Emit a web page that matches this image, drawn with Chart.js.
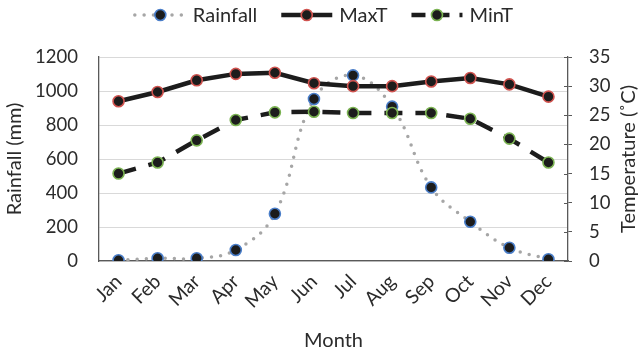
<!DOCTYPE html>
<html>
<head>
<meta charset="utf-8">
<script src="https://cdn.jsdelivr.net/npm/chart.js@4/dist/chart.umd.min.js"></script>
<style>
  html, body { margin: 0; padding: 0; background: #fff; }
  #wrap { width: 640px; height: 356px; }
</style>
</head>
<body>
<div id="wrap"><canvas id="c" width="640" height="356"></canvas></div>
<script>
// Monthly climate: rainfall (left axis) and temperatures (right axis)
const months = ['Jan', 'Feb', 'Mar', 'Apr', 'May', 'Jun', 'Jul', 'Aug', 'Sep', 'Oct', 'Nov', 'Dec'];
const rainfall = [4, 16, 16, 65, 278, 953, 1092, 908, 433, 231, 78, 10];
const maxT = [27.4, 29.0, 31.0, 32.1, 32.3, 30.5, 30.0, 30.0, 30.8, 31.4, 30.3, 28.2];
const minT = [15.0, 16.9, 20.7, 24.2, 25.5, 25.6, 25.4, 25.4, 25.4, 24.4, 21.0, 16.9];
const rainTicks = [0, 200, 400, 600, 800, 1000, 1200];
const tempTicks = [0, 5, 10, 15, 20, 25, 30, 35];

const FONT = 'Lato, "Noto Sans", sans-serif';
const TEXT = '#2b2b2b';
const AXIS = '#595959';
const GRID = '#d9d9d9';
const TITLE_SIZE = 20;
const NUM_SIZE = 18.5;

// Legend: line sample with a centred marker, followed by the label
const comboLegend = {
  id: 'comboLegend',
  afterDraw(chart) {
    const ctx = chart.ctx;
    const sets = chart.data.datasets;
    const sampleW = 51, gapText = 7, gapItem = 24, cy = 15;
    ctx.save();
    ctx.font = TITLE_SIZE + 'px ' + FONT;
    const widths = sets.map(d => ctx.measureText(d.label).width);
    let total = 0;
    widths.forEach((w, i) => { total += sampleW + gapText + w + (i < sets.length - 1 ? gapItem : 0); });
    let x = 324 - total / 2;
    sets.forEach((d, i) => {
      ctx.save();
      ctx.strokeStyle = d.borderColor;
      ctx.lineWidth = d.borderWidth;
      ctx.lineCap = d.borderCapStyle || 'butt';
      ctx.setLineDash(d.legendDash || d.borderDash || []);
      ctx.beginPath();
      ctx.moveTo(x, cy);
      ctx.lineTo(x + sampleW, cy);
      ctx.stroke();
      ctx.setLineDash([]);
      ctx.beginPath();
      ctx.arc(x + sampleW / 2, cy, d.pointRadius, 0, Math.PI * 2);
      ctx.fillStyle = d.pointBackgroundColor;
      ctx.fill();
      ctx.lineWidth = d.pointBorderWidth;
      ctx.strokeStyle = d.pointBorderColor;
      ctx.stroke();
      ctx.restore();
      ctx.fillStyle = TEXT;
      ctx.textBaseline = 'middle';
      ctx.textAlign = 'left';
      ctx.fillText(d.label, x + sampleW + gapText, cy + 1);
      x += sampleW + gapText + widths[i] + gapItem;
    });
    ctx.restore();
  }
};

// Right axis: tick marks crossing the axis line and an upward-reading title
const rightAxisExtras = {
  id: 'rightAxisExtras',
  afterDraw(chart) {
    const s = chart.scales.y2;
    const ctx = chart.ctx;
    ctx.save();
    ctx.strokeStyle = AXIS;
    ctx.lineWidth = 1;
    s.ticks.forEach(t => {
      const y = Math.round(s.getPixelForValue(t.value)) + 0.5;
      ctx.beginPath();
      ctx.moveTo(s.left - 4, y);
      ctx.lineTo(s.left, y);
      ctx.stroke();
    });
    ctx.translate(629, (chart.chartArea.top + chart.chartArea.bottom) / 2);
    ctx.rotate(-Math.PI / 2);
    ctx.font = TITLE_SIZE + 'px ' + FONT;
    ctx.fillStyle = TEXT;
    ctx.textAlign = 'center';
    ctx.textBaseline = 'middle';
    ctx.fillText('Temperature (\u02DAC)', 0, 0);
    ctx.restore();
  }
};

new Chart(document.getElementById('c'), {
  type: 'line',
  data: {
    labels: months,
    datasets: [
      {
        label: 'Rainfall',
        data: rainfall,
        yAxisID: 'y',
        borderColor: '#a6a6a6',
        borderWidth: 3.5,
        borderDash: [0, 9.3],
        borderCapStyle: 'round',
        tension: 0.4,
        pointRadius: 5.5,
        pointBackgroundColor: '#1c1c1c',
        pointBorderColor: '#4a7ec9',
        pointBorderWidth: 1.6,
        order: 3
      },
      {
        label: 'MaxT',
        data: maxT,
        yAxisID: 'y2',
        borderColor: '#1c1c1c',
        borderWidth: 4.5,
        pointRadius: 5.5,
        pointBackgroundColor: '#1c1c1c',
        pointBorderColor: '#d0534f',
        pointBorderWidth: 1.6,
        order: 1
      },
      {
        label: 'MinT',
        data: minT,
        yAxisID: 'y2',
        borderColor: '#1c1c1c',
        borderWidth: 4.5,
        borderDash: [18, 13],
        legendDash: [14, 10],
        pointRadius: 5.5,
        pointBackgroundColor: '#1c1c1c',
        pointBorderColor: '#7bb352',
        pointBorderWidth: 1.6,
        order: 2
      }
    ]
  },
  options: {
    responsive: false,
    animation: false,
    devicePixelRatio: 1,
    layout: { padding: { top: 57, left: 0, right: 0, bottom: 0 } },
    plugins: {
      legend: { display: false },
      tooltip: { enabled: false }
    },
    scales: {
      x: {
        offset: true,
        afterFit(s) { s.height = 95; },
        grid: { display: false, drawTicks: false },
        border: { display: true, color: AXIS, width: 1.3 },
        ticks: {
          color: TEXT,
          font: { family: FONT, size: 19.5 },
          minRotation: 45,
          maxRotation: 45,
          padding: 9
        },
        title: {
          display: true,
          text: 'Month',
          color: TEXT,
          font: { family: FONT, size: TITLE_SIZE },
          padding: { top: 0, bottom: 3 }
        }
      },
      y: {
        position: 'left',
        min: 0,
        max: 1200,
        afterFit(s) { s.width = 99; },
        afterBuildTicks(s) { s.ticks = rainTicks.map(v => ({ value: v })); },
        grid: { color: GRID, lineWidth: 1, drawTicks: false },
        border: { display: true, color: AXIS, width: 1.3 },
        ticks: {
          color: TEXT,
          font: { family: FONT, size: NUM_SIZE },
          padding: 21,
          callback: v => String(v)
        },
        title: {
          display: true,
          text: 'Rainfall (mm)',
          color: TEXT,
          font: { family: FONT, size: TITLE_SIZE },
          padding: { top: 3, bottom: 0 }
        }
      },
      y2: {
        position: 'right',
        min: 0,
        max: 35,
        afterFit(s) { s.width = 72; },
        afterBuildTicks(s) { s.ticks = tempTicks.map(v => ({ value: v })); },
        grid: { drawOnChartArea: false, drawTicks: true, tickLength: 4, color: AXIS },
        border: { display: true, color: AXIS, width: 1.3 },
        ticks: {
          color: TEXT,
          font: { family: FONT, size: NUM_SIZE },
          padding: 17,
          callback: v => String(v)
        }
      }
    }
  },
  plugins: [comboLegend, rightAxisExtras]
});
</script>
</body>
</html>
